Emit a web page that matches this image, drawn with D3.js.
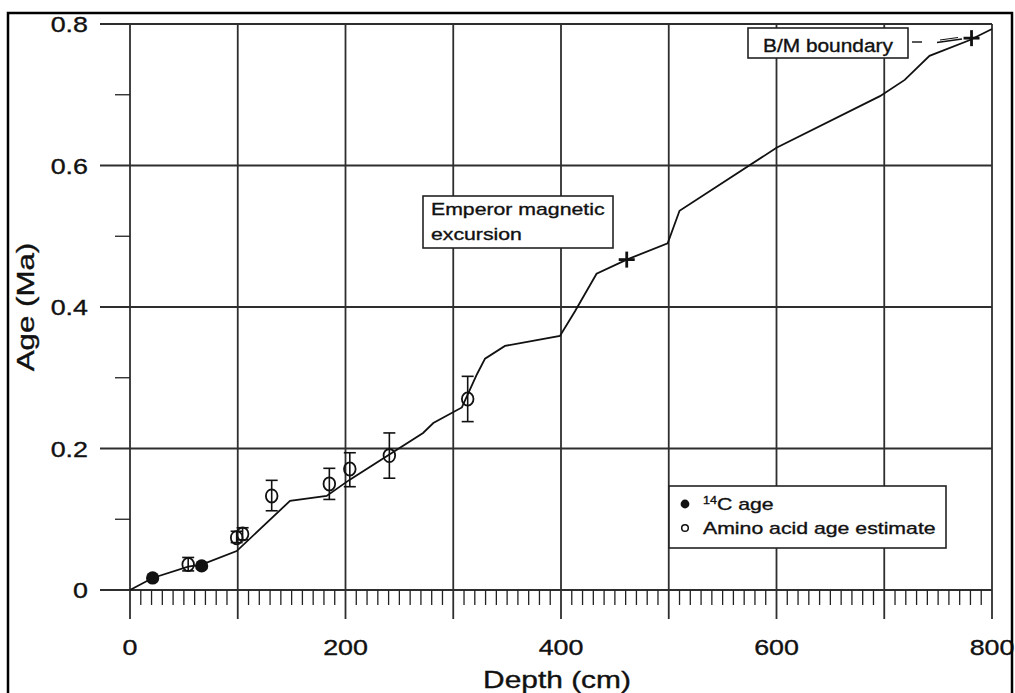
<!DOCTYPE html>
<html><head><meta charset="utf-8">
<script src="https://cdn.jsdelivr.net/npm/d3@7"></script>
<style>
html,body{margin:0;padding:0;background:#fff;}
text{font-family:"Liberation Sans",Arial,Helvetica,sans-serif;fill:#111;stroke:#111;stroke-width:0.35px;}
</style></head>
<body>
<svg id="chart" width="1015" height="693"></svg>
<script>
// ---- data ----
const xTickValues = [0, 100, 200, 300, 400, 500, 600, 700, 800];
const xTickLabels = ["0", "", "200", "", "400", "", "600", "", "800"];
const yTickValues = [0, 0.2, 0.4, 0.6, 0.8];
const yTickLabels = ["0", "0.2", "0.4", "0.6", "0.8"];
const yMinorValues = [0.1, 0.3, 0.5, 0.7];

// age-depth model line
const modelDepth = [0, 21, 54, 66.5, 99, 148.5, 182.5, 204, 272, 281.5, 308, 322, 329.5, 348, 399, 413, 433, 461, 499, 510, 600, 696, 719, 742, 779, 800];
const modelAge   = [0, 0.017, 0.033, 0.036, 0.055, 0.126, 0.133, 0.156, 0.222, 0.236, 0.258, 0.305, 0.327, 0.345, 0.359, 0.394, 0.447, 0.467, 0.490, 0.536, 0.625, 0.698, 0.721, 0.755, 0.777, 0.793];

// 14C ages
const c14Depth = [21, 66.5];
const c14Age   = [0.017, 0.034];

// amino acid age estimates with error range
const aaDepth = [54, 99, 104.5, 131.5, 185, 204, 240.7, 313.4];
const aaAge   = [0.036, 0.074, 0.079, 0.133, 0.150, 0.171, 0.190, 0.270];
const aaLow   = [0.027, 0.067, 0.071, 0.112, 0.128, 0.146, 0.158, 0.238];
const aaHigh  = [0.046, 0.083, 0.088, 0.155, 0.172, 0.194, 0.222, 0.302];

// palaeomagnetic markers
const magDepth = [461, 781];
const magAge   = [0.467, 0.780];
const magLabels = [["Emperor magnetic", "excursion"], ["B/M boundary"]];

const legendLabels = ["C age", "Amino acid age estimate"];

// ---- drawing ----
const svg = d3.select("#chart");
const x = d3.scaleLinear().domain([0, 800]).range([130, 992]);
const y = d3.scaleLinear().domain([0, 0.8]).range([590, 24]);

const gridColor = "#2e2e2e";

function label(g, px, py, str, size, sx, anchor, rot) {
  return g.append("text")
    .attr("transform", `translate(${px},${py})` + (rot ? ` rotate(${rot})` : "") + ` scale(${sx},1)`)
    .attr("text-anchor", anchor)
    .style("font-size", size + "px")
    .text(str);
}

const grid = svg.append("g");
grid.selectAll("line.vx").data(xTickValues).join("line")
  .attr("x1", d => x(d)).attr("x2", d => x(d))
  .attr("y1", y(0.8)).attr("y2", y(0) + 29)
  .attr("stroke", gridColor).attr("stroke-width", 1.8);
grid.selectAll("line.hy").data(yTickValues).join("line")
  .attr("x1", x(0) - 30).attr("x2", x(800))
  .attr("y1", d => y(d)).attr("y2", d => y(d))
  .attr("stroke", gridColor).attr("stroke-width", 1.8);
const xMinor = d3.range(10, 800, 10).filter(d => d % 100 !== 0);
grid.selectAll("line.mx").data(xMinor).join("line")
  .attr("x1", d => x(d)).attr("x2", d => x(d))
  .attr("y1", y(0)).attr("y2", y(0) + 15)
  .attr("stroke", "#222").attr("stroke-width", 1.3);
grid.selectAll("line.my").data(yMinorValues).join("line")
  .attr("x1", x(0) - 15).attr("x2", x(0))
  .attr("y1", d => y(d)).attr("y2", d => y(d))
  .attr("stroke", "#222").attr("stroke-width", 1.3);

// tick labels
const lab = svg.append("g");
yTickValues.forEach((v, i) => label(lab, 88, y(v) + 8, yTickLabels[i], 22, 1.22, "end"));
xTickValues.forEach((v, i) => { if (xTickLabels[i]) label(lab, x(v), 655, xTickLabels[i], 22, 1.22, "middle"); });
label(lab, 557, 688, "Depth (cm)", 23, 1.3, "middle");
label(lab, 34, (y(0) + y(0.8)) / 2, "Age (Ma)", 23, 1.36, "middle", -90);

// model line
const line = d3.line().x(d => x(d[0])).y(d => y(d[1]));
svg.append("path")
  .datum(modelDepth.map((d, i) => [d, modelAge[i]]))
  .attr("d", line).attr("fill", "none").attr("stroke", "#111").attr("stroke-width", 1.8);

// amino acid error bars + open circles
const aa = aaDepth.map((d, i) => ({d, a: aaAge[i], lo: aaLow[i], hi: aaHigh[i]}));
const eb = svg.append("g").attr("stroke", "#111").attr("stroke-width", 1.6);
aa.forEach(p => {
  eb.append("line").attr("x1", x(p.d)).attr("x2", x(p.d)).attr("y1", y(p.lo)).attr("y2", y(p.hi));
  eb.append("line").attr("x1", x(p.d) - 6).attr("x2", x(p.d) + 6).attr("y1", y(p.lo)).attr("y2", y(p.lo));
  eb.append("line").attr("x1", x(p.d) - 6).attr("x2", x(p.d) + 6).attr("y1", y(p.hi)).attr("y2", y(p.hi));
});
svg.append("g").selectAll("ellipse").data(aa).join("ellipse")
  .attr("cx", p => x(p.d)).attr("cy", p => y(p.a)).attr("rx", 5.8).attr("ry", 6.6)
  .attr("fill", "none").attr("stroke", "#111").attr("stroke-width", 1.8);

// 14C filled circles
svg.append("g").selectAll("circle").data(c14Depth).join("circle")
  .attr("cx", d => x(d)).attr("cy", (d, i) => y(c14Age[i])).attr("r", 6.6).attr("fill", "#111");

// magnetic crosses
const cr = svg.append("g").attr("stroke", "#111").attr("stroke-width", 2.8);
magDepth.forEach((d, i) => {
  const cx = x(d), cy = y(magAge[i]);
  cr.append("line").attr("x1", cx - 8).attr("x2", cx + 8).attr("y1", cy).attr("y2", cy);
  cr.append("line").attr("x1", cx).attr("x2", cx).attr("y1", cy - 8).attr("y2", cy + 8);
});

// annotation boxes
const ann = svg.append("g");
ann.append("rect").attr("x", 423).attr("y", 196).attr("width", 190).attr("height", 52)
  .attr("fill", "#fff").attr("stroke", "#222").attr("stroke-width", 1.6);
label(ann, 431, 215, magLabels[0][0], 17, 1.25, "start");
label(ann, 431, 240, magLabels[0][1], 17, 1.25, "start");

ann.append("rect").attr("x", 748).attr("y", 28).attr("width", 160).attr("height", 30)
  .attr("fill", "#fff").attr("stroke", "#222").attr("stroke-width", 1.6);
label(ann, 763, 52, magLabels[1][0], 18, 1.16, "start");
ann.append("line").attr("x1", 912).attr("x2", 922).attr("y1", 42).attr("y2", 42)
  .attr("stroke", "#111").attr("stroke-width", 1.4);
ann.append("line").attr("x1", 937).attr("x2", 962).attr("y1", 42.5).attr("y2", 39)
  .attr("stroke", "#111").attr("stroke-width", 1.4);
ann.append("line").attr("x1", 940).attr("x2", 958).attr("y1", 40).attr("y2", 37.5)
  .attr("stroke", "#111").attr("stroke-width", 1.1);

// legend
const lg = svg.append("g");
lg.append("rect").attr("x", 669).attr("y", 486).attr("width", 277).attr("height", 62)
  .attr("fill", "#fff").attr("stroke", "#222").attr("stroke-width", 1.6);
lg.append("circle").attr("cx", 685).attr("cy", 504).attr("r", 4.4).attr("fill", "#111");
lg.append("circle").attr("cx", 685).attr("cy", 528).attr("r", 3.3).attr("fill", "none").attr("stroke", "#111").attr("stroke-width", 1.5);
const t1 = lg.append("text").attr("transform", "translate(703,510) scale(1.25,1)").style("font-size", "17px");
t1.append("tspan").attr("dy", -6).style("font-size", "10px").text("14");
t1.append("tspan").attr("dy", 6).text(legendLabels[0]);
label(lg, 703, 534, legendLabels[1], 17, 1.25, "start");

// outer frame
svg.append("rect").attr("x", 8).attr("y", 13).attr("width", 1004).attr("height", 700)
  .attr("fill", "none").attr("stroke", "#000").attr("stroke-width", 2.5);
</script>
</body></html>
